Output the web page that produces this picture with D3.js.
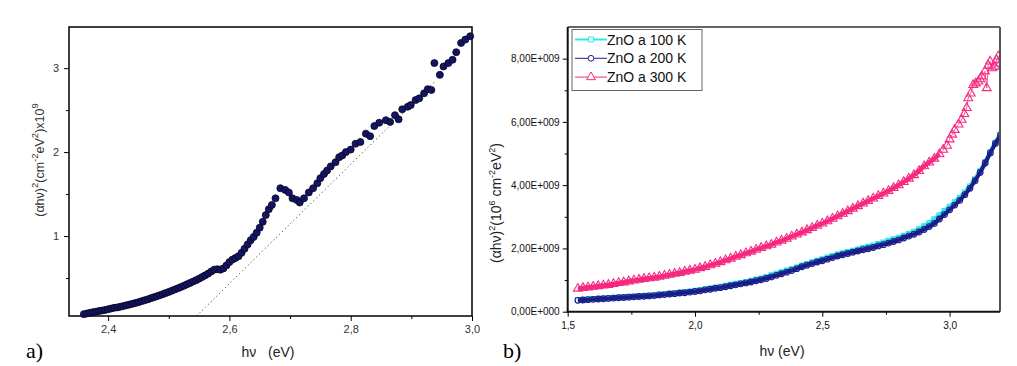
<!DOCTYPE html>
<html><head><meta charset="utf-8">
<script src="https://cdnjs.cloudflare.com/ajax/libs/d3/7.8.5/d3.min.js"></script>
<style>body{margin:0;background:#fff}svg{display:block}text{font-family:Arial,"Liberation Sans",sans-serif}text.serif{font-family:"Liberation Serif","Times New Roman",serif}</style>
</head><body><svg id="c" width="1017" height="366"></svg>
<script>
// ---------- Panel a data ----------
const aX = [2.360,2.365,2.370,2.375,2.380,2.385,2.390,2.395,2.400,2.405,2.410,2.415,2.420,2.425,2.430,2.435,2.440,2.445,2.450,2.455,2.460,2.465,2.470,2.475,2.480,2.485,2.490,2.495,2.500,2.505,2.510,2.515,2.520,2.525,2.530,2.535,2.540,2.545,2.550,2.555,2.560,2.565,2.570,2.575,2.580,2.585,2.590,2.595,2.600,2.605,2.610,2.615,2.620,2.625,2.630,2.635,2.640,2.645,2.650,2.655,2.660,2.665,2.670,2.676,2.684,2.692,2.698,2.704,2.711,2.716,2.723,2.731,2.738,2.745,2.750,2.756,2.761,2.767,2.775,2.781,2.786,2.792,2.800,2.808,2.816,2.825,2.832,2.839,2.847,2.858,2.865,2.873,2.879,2.885,2.894,2.899,2.907,2.913,2.921,2.927,2.933,2.938,2.947,2.953,2.961,2.968,2.974,2.982,2.989,2.997];
const aY = [0.070,0.078,0.086,0.094,0.100,0.107,0.113,0.120,0.128,0.137,0.146,0.150,0.158,0.166,0.175,0.184,0.193,0.203,0.213,0.224,0.235,0.246,0.258,0.270,0.282,0.295,0.308,0.321,0.335,0.349,0.364,0.378,0.393,0.409,0.425,0.441,0.458,0.475,0.493,0.512,0.532,0.553,0.578,0.600,0.605,0.600,0.615,0.650,0.690,0.720,0.740,0.760,0.800,0.850,0.900,0.950,0.990,1.040,1.100,1.170,1.250,1.320,1.370,1.450,1.570,1.550,1.520,1.450,1.430,1.400,1.450,1.520,1.570,1.630,1.690,1.740,1.780,1.830,1.880,1.940,1.960,2.000,2.030,2.100,2.120,2.220,2.190,2.310,2.350,2.380,2.360,2.440,2.390,2.510,2.540,2.560,2.620,2.640,2.700,2.750,2.740,3.060,2.920,3.020,3.060,3.100,3.190,3.300,3.340,3.380];
const aFitX = [2.5458, 2.940];
const aFitY = [0.048, 2.85];
const aXTicks = [2.4, 2.6, 2.8, 3.0];
const aXMinor = [2.5, 2.7, 2.9];
const aYTicks = [1, 2, 3];
const aYMinor = [0.5, 1.5, 2.5];

// ---------- Panel b data (values in 1e9) ----------
const bX = [1.54,1.56,1.58,1.60,1.62,1.64,1.66,1.68,1.70,1.72,1.74,1.76,1.78,1.80,1.82,1.84,1.86,1.88,1.90,1.92,1.94,1.96,1.98,2.00,2.02,2.04,2.06,2.08,2.10,2.12,2.14,2.16,2.18,2.20,2.22,2.24,2.26,2.28,2.30,2.32,2.34,2.36,2.38,2.40,2.42,2.44,2.46,2.48,2.50,2.52,2.54,2.56,2.58,2.60,2.62,2.64,2.66,2.68,2.70,2.72,2.74,2.76,2.78,2.80,2.82,2.84,2.86,2.88,2.90,2.92,2.94,2.96,2.98,3.00,3.02,3.04,3.06,3.08,3.10,3.12,3.14,3.16,3.18,3.20];
const zno100 = [0.37,0.38,0.39,0.40,0.41,0.42,0.43,0.44,0.45,0.46,0.47,0.48,0.49,0.50,0.51,0.52,0.54,0.55,0.57,0.58,0.60,0.62,0.64,0.66,0.68,0.71,0.73,0.76,0.79,0.82,0.85,0.88,0.91,0.94,0.98,1.02,1.05,1.10,1.15,1.20,1.25,1.30,1.35,1.40,1.46,1.51,1.56,1.61,1.66,1.71,1.76,1.81,1.85,1.89,1.93,1.97,2.01,2.05,2.09,2.14,2.19,2.24,2.29,2.34,2.40,2.46,2.53,2.61,2.70,2.80,2.92,3.05,3.18,3.32,3.46,3.60,3.77,3.96,4.19,4.44,4.73,5.04,5.34,5.60];
const zno200 = [0.36,0.37,0.38,0.39,0.40,0.41,0.42,0.43,0.44,0.45,0.46,0.47,0.48,0.49,0.50,0.51,0.53,0.54,0.56,0.57,0.59,0.60,0.62,0.64,0.66,0.69,0.71,0.74,0.76,0.79,0.82,0.85,0.88,0.91,0.94,0.98,1.01,1.05,1.10,1.15,1.20,1.25,1.30,1.36,1.42,1.47,1.52,1.57,1.61,1.66,1.71,1.76,1.80,1.84,1.88,1.92,1.96,1.99,2.03,2.08,2.12,2.17,2.22,2.27,2.33,2.39,2.45,2.52,2.60,2.69,2.79,2.93,3.07,3.22,3.37,3.52,3.70,3.90,4.14,4.40,4.70,5.02,5.32,5.58];
const b300X = [1.54,1.56,1.58,1.60,1.62,1.64,1.66,1.68,1.70,1.72,1.74,1.76,1.78,1.80,1.82,1.84,1.86,1.88,1.90,1.92,1.94,1.96,1.98,2.00,2.02,2.04,2.06,2.08,2.10,2.12,2.14,2.16,2.18,2.20,2.22,2.24,2.26,2.28,2.30,2.32,2.34,2.36,2.38,2.40,2.42,2.44,2.46,2.48,2.50,2.52,2.54,2.56,2.58,2.60,2.62,2.64,2.66,2.68,2.70,2.72,2.74,2.76,2.78,2.80,2.82,2.84,2.86,2.88,2.90,2.92,2.94,2.96,2.975,2.99,3.00,3.01,3.02,3.035,3.047,3.058,3.067,3.073,3.083,3.093,3.103,3.113,3.120,3.126,3.139,3.146,3.152,3.159,3.168,3.178,3.185,3.191,3.198];
const zno300 = [0.73,0.75,0.77,0.79,0.81,0.83,0.85,0.88,0.91,0.93,0.96,0.99,1.01,1.04,1.06,1.08,1.11,1.14,1.17,1.20,1.23,1.27,1.30,1.33,1.38,1.42,1.47,1.52,1.57,1.63,1.68,1.74,1.79,1.85,1.90,1.96,2.02,2.07,2.12,2.19,2.25,2.31,2.38,2.44,2.51,2.58,2.65,2.72,2.79,2.86,2.94,3.02,3.10,3.18,3.26,3.34,3.42,3.50,3.58,3.66,3.74,3.82,3.91,4.00,4.10,4.21,4.32,4.45,4.60,4.72,4.84,4.98,5.12,5.25,5.45,5.60,5.75,5.92,6.07,6.25,6.44,6.75,6.90,7.17,7.22,7.28,7.35,7.44,7.60,7.07,7.78,7.91,7.70,7.75,7.95,8.07,7.85];
const bXTicks = [1.5, 2.0, 2.5, 3.0];
const bXMinor = [1.75, 2.25, 2.75];
const bYTicks = [0, 2e9, 4e9, 6e9, 8e9];
const bYMinor = [1e9, 3e9, 5e9, 7e9];
const legendLabels = ["ZnO a 100 K", "ZnO a 200 K", "ZnO a 300 K"];
const colors = ["#2ee8e8", "#1c1c8a", "#f52a80"];

const svg = d3.select("#c");
const comma = d => d.toFixed(1).replace(".", ",");

// ================= Panel a =================
const ax = d3.scaleLinear().domain([2.3355, 3.0]).range([69, 472]);
const ay = d3.scaleLinear().domain([0.048, 3.49]).range([316, 27]);
const ga = svg.append("g");
ga.append("g").attr("transform", "translate(0,316)")
  .call(d3.axisBottom(ax).tickValues(aXTicks).tickFormat(comma).tickSizeOuter(0).tickSize(5).tickPadding(4))
  .call(g => { g.select(".domain").remove(); g.selectAll("text").attr("font-size", 11).attr("fill", "#333"); });
ga.append("g").attr("transform", "translate(0,316)")
  .call(d3.axisBottom(ax).tickValues(aXMinor).tickFormat("").tickSizeOuter(0).tickSize(3))
  .call(g => g.select(".domain").remove());
ga.append("g").attr("transform", "translate(69,0)")
  .call(d3.axisLeft(ay).tickValues(aYTicks).tickFormat(d3.format("d")).tickSizeOuter(0).tickSize(5).tickPadding(5))
  .call(g => { g.select(".domain").remove(); g.selectAll("text").attr("font-size", 11).attr("fill", "#333"); });
ga.append("g").attr("transform", "translate(69,0)")
  .call(d3.axisLeft(ay).tickValues(aYMinor).tickFormat("").tickSizeOuter(0).tickSize(3))
  .call(g => g.select(".domain").remove());
ga.append("rect").attr("x", 69).attr("y", 27).attr("width", 403).attr("height", 289)
  .attr("fill", "none").attr("stroke", "#000").attr("stroke-width", 1.5);
ga.append("line").attr("x1", ax(aFitX[0])).attr("y1", ay(aFitY[0])).attr("x2", ax(aFitX[1])).attr("y2", ay(aFitY[1]))
  .attr("stroke", "#222").attr("stroke-width", 1).attr("stroke-dasharray", "1,3");
ga.append("g").selectAll("circle").data(aX.map((x, i) => [x, aY[i]])).join("circle")
  .attr("cx", d => ax(d[0])).attr("cy", d => ay(d[1])).attr("r", 3.5)
  .attr("fill", "#141464").attr("stroke", "#05051e").attr("stroke-width", 0.8);
// labels
const ylA = ga.append("text").attr("transform", "translate(44,160) rotate(-90)").attr("text-anchor", "middle")
  .attr("font-size", 12.5).attr("fill", "#333");
ylA.append("tspan").text("(αhν)");
ylA.append("tspan").attr("dy", -6).attr("font-size", 9.5).text("2");
ylA.append("tspan").attr("dy", 6).text("(cm");
ylA.append("tspan").attr("dy", -6).attr("font-size", 9.5).text("-2");
ylA.append("tspan").attr("dy", 6).text("eV");
ylA.append("tspan").attr("dy", -6).attr("font-size", 9.5).text("2");
ylA.append("tspan").attr("dy", 6).text(")x10");
ylA.append("tspan").attr("dy", -6).attr("font-size", 9.5).text("9");
ga.append("text").attr("x", 268).attr("y", 357).attr("text-anchor", "middle").attr("font-size", 14).attr("fill", "#222")
  .attr("xml:space", "preserve").text("hν   (eV)");
ga.append("text").attr("class", "serif").attr("x", 26).attr("y", 358).attr("font-size", 22).text("a)");

// ================= Panel b =================
const bx = d3.scaleLinear().domain([1.5, 3.198]).range([567.7, 1000]);
const by = d3.scaleLinear().domain([0, 9e9]).range([311.7, 27]);
const gb = svg.append("g");
const efmt = d => d === 0 ? "0,00E+000" : (d / 1e9).toFixed(2).replace(".", ",") + "E+009";
gb.append("g").attr("transform", "translate(0,311.7)")
  .call(d3.axisBottom(bx).tickValues(bXTicks).tickFormat(comma).tickSizeOuter(0).tickSize(5).tickPadding(5))
  .call(g => { g.select(".domain").remove(); g.selectAll("text").attr("font-size", 10).attr("fill", "#111"); });
gb.append("g").attr("transform", "translate(0,311.7)")
  .call(d3.axisBottom(bx).tickValues(bXMinor).tickFormat("").tickSizeOuter(0).tickSize(3))
  .call(g => g.select(".domain").remove());
gb.append("g").attr("transform", "translate(567.7,0)")
  .call(d3.axisLeft(by).tickValues(bYTicks).tickFormat(efmt).tickSizeOuter(0).tickSize(5).tickPadding(3))
  .call(g => { g.select(".domain").remove(); g.selectAll("text").attr("font-size", 10).attr("fill", "#111"); });
gb.append("g").attr("transform", "translate(567.7,0)")
  .call(d3.axisLeft(by).tickValues(bYMinor).tickFormat("").tickSizeOuter(0).tickSize(3))
  .call(g => g.select(".domain").remove());

svg.append("defs").append("clipPath").attr("id", "cb").append("rect")
  .attr("x", 567.7).attr("y", 27).attr("width", 432.3).attr("height", 284.7);
const plot = gb.append("g").attr("clip-path", "url(#cb)");
const series = [
  { xs: bX, ys: zno100, shape: d3.symbolSquare, size: 24, lw: 4.5 },
  { xs: bX, ys: zno200, shape: d3.symbolCircle, size: 26, lw: 4 },
  { xs: b300X, ys: zno300, shape: d3.symbolTriangle, size: 34, lw: 4.5 }
];
const line = d3.line().x(d => bx(d[0])).y(d => by(d[1] * 1e9));
series.forEach((s, k) => {
  const pts = s.xs.map((x, i) => [x, s.ys[i]]);
  const dense = pts.filter(d => d[0] <= (k === 2 ? 2.96 : 3.2));
  plot.append("path").datum(dense).attr("d", line).attr("fill", "none").attr("stroke", colors[k]).attr("stroke-width", s.lw).attr("stroke-linejoin", "round");
  plot.append("path").datum(pts).attr("d", line).attr("fill", "none").attr("stroke", colors[k]).attr("stroke-width", 0.8);
  plot.append("g").selectAll("path").data(pts).join("path")
    .attr("transform", d => `translate(${bx(d[0])},${by(d[1] * 1e9)})`)
    .attr("d", d3.symbol().type(s.shape).size(s.size))
    .attr("fill", "none").attr("stroke", colors[k]).attr("stroke-width", 1.1);
});
// frame
gb.append("line").attr("x1", 567.7).attr("x2", 1000).attr("y1", 27).attr("y2", 27).attr("stroke", "#333").attr("stroke-width", 1.5);
gb.append("line").attr("x1", 1000).attr("x2", 1000).attr("y1", 27).attr("y2", 311.7).attr("stroke", "#555").attr("stroke-width", 2);
gb.append("line").attr("x1", 567.7).attr("x2", 567.7).attr("y1", 27).attr("y2", 312.5).attr("stroke", "#111").attr("stroke-width", 2);
gb.append("line").attr("x1", 566.7).attr("x2", 1000).attr("y1", 311.7).attr("y2", 311.7).attr("stroke", "#111").attr("stroke-width", 2);

// legend
const lg = gb.append("g");
lg.append("rect").attr("x", 572).attr("y", 29.5).attr("width", 130).attr("height", 61)
  .attr("fill", "#fff").attr("stroke", "#666").attr("stroke-width", 1);
legendLabels.forEach((t, k) => {
  const yy = 39.5 + k * 18.8;
  lg.append("line").attr("x1", 575).attr("x2", 607).attr("y1", yy).attr("y2", yy).attr("stroke", colors[k]).attr("stroke-width", k === 0 ? 2 : 1);
  lg.append("path").attr("transform", `translate(591,${yy})`).attr("d", d3.symbol().type(series[k].shape).size(series[k].size))
    .attr("fill", "#fff").attr("stroke", colors[k]).attr("stroke-width", 1);
  lg.append("text").attr("x", 607).attr("y", yy + 5).attr("font-size", 14).attr("fill", "#111").text(t);
});

const ylB = gb.append("text").attr("transform", "translate(501,203) rotate(-90)").attr("text-anchor", "middle")
  .attr("font-size", 14).attr("fill", "#222");
ylB.append("tspan").text("(αhν)");
ylB.append("tspan").attr("dy", -6).attr("font-size", 9).text("2");
ylB.append("tspan").attr("dy", 6).text("(10");
ylB.append("tspan").attr("dy", -6).attr("font-size", 9).text("6");
ylB.append("tspan").attr("dy", 6).text(" cm");
ylB.append("tspan").attr("dy", -6).attr("font-size", 9).text("-2");
ylB.append("tspan").attr("dy", 6).text("eV");
ylB.append("tspan").attr("dy", -6).attr("font-size", 9).text("2");
ylB.append("tspan").attr("dy", 6).text(")");
gb.append("text").attr("x", 782).attr("y", 356).attr("text-anchor", "middle").attr("font-size", 14).attr("fill", "#222").text("hν (eV)");
gb.append("text").attr("class", "serif").attr("x", 503).attr("y", 358).attr("font-size", 22).text("b)");
</script></body></html>
